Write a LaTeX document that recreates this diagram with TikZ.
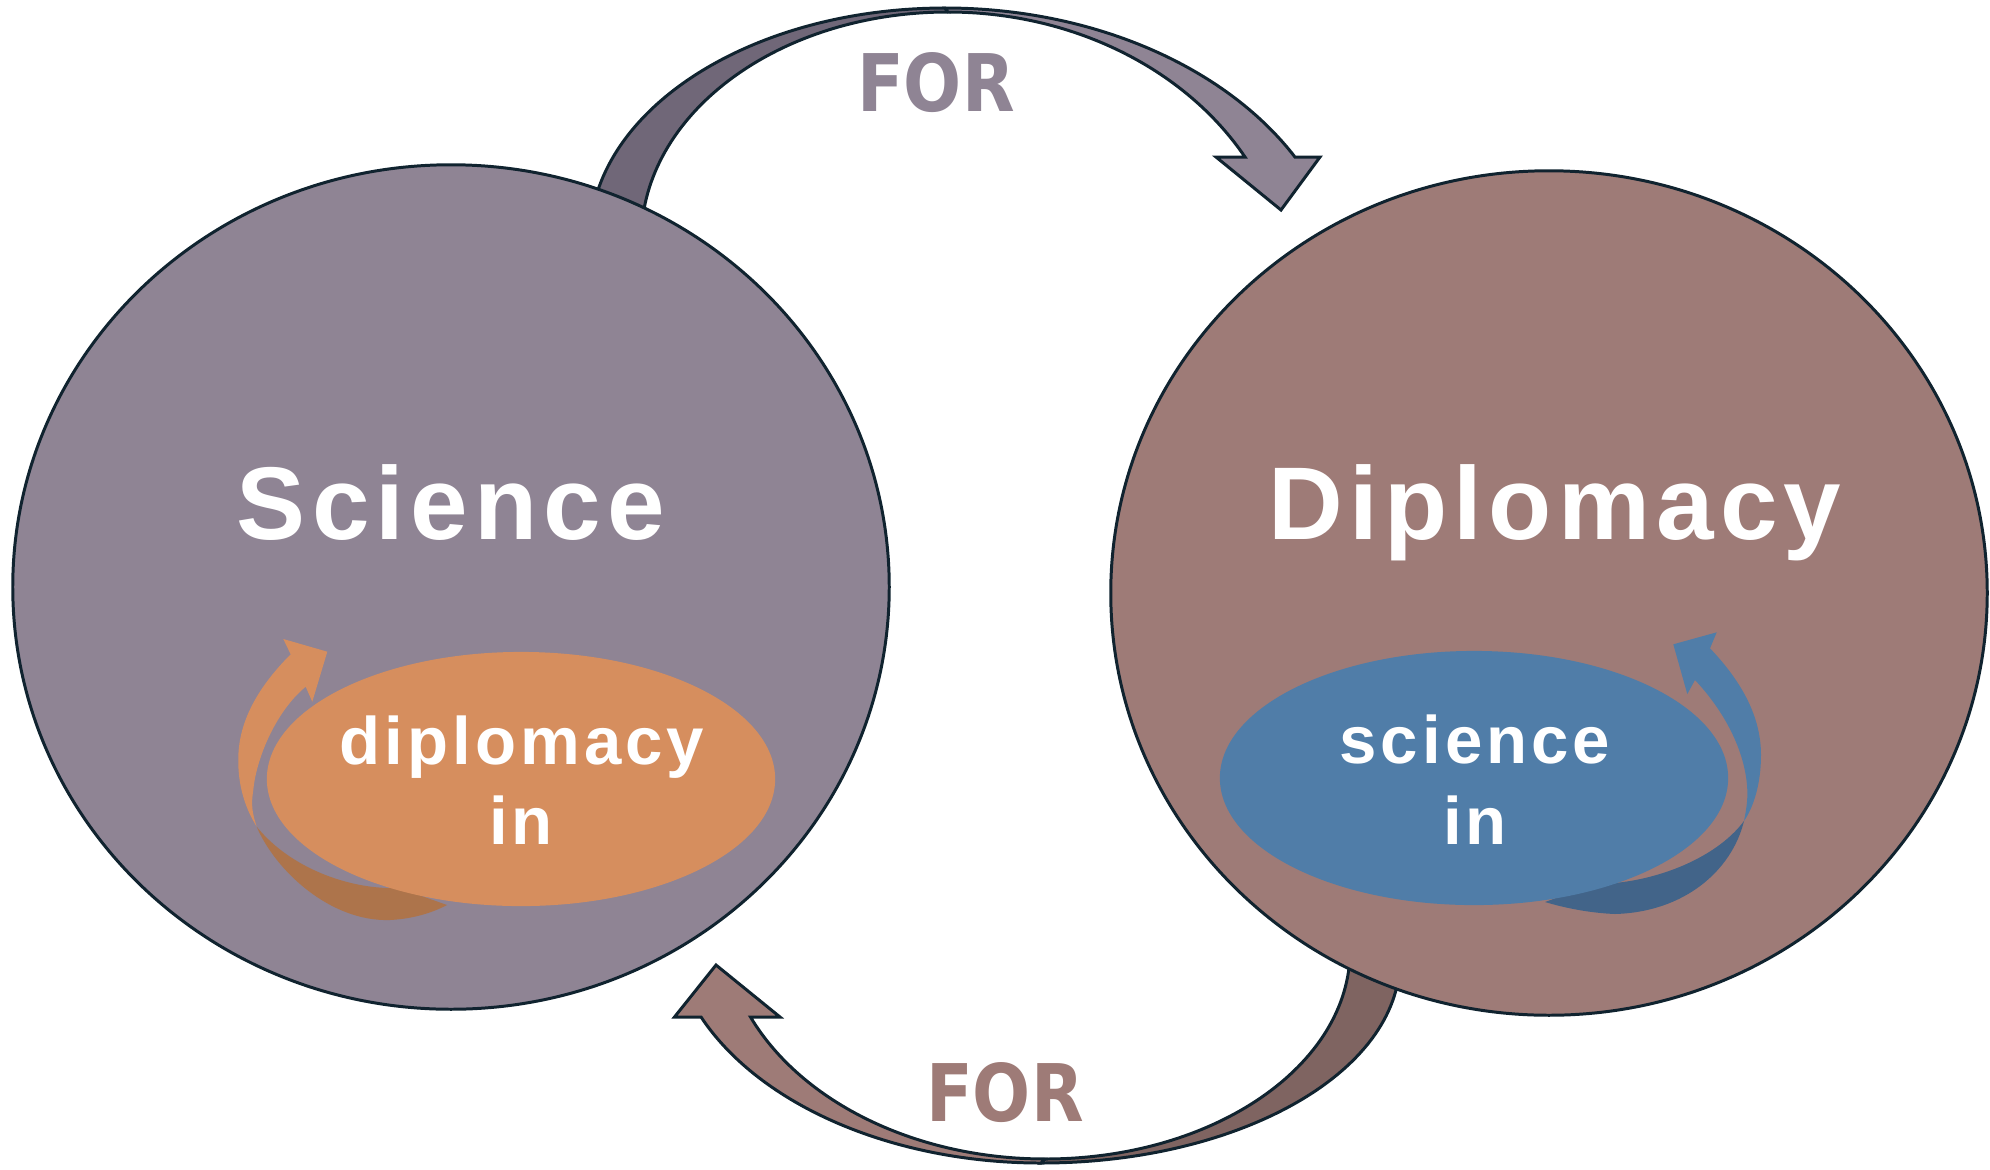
\documentclass[tikz,border=0pt]{standalone}
\usepackage{fontspec}
\usepackage{xcolor}
\usetikzlibrary{shapes.geometric}

\newfontfamily\mainlabelfont{Liberation Sans}[LetterSpace=6]
\newfontfamily\forfont{DejaVu Sans}[FakeStretch=0.86]

\definecolor{sciencefill}{HTML}{8F8494}
\definecolor{sciencedark}{HTML}{706778}
\definecolor{diplofill}{HTML}{9E7B77}
\definecolor{diplodark}{HTML}{7F6461}
\definecolor{orangefill}{HTML}{D68E5E}
\definecolor{orangedark}{HTML}{AD744B}
\definecolor{bluefill}{HTML}{507DA8}
\definecolor{bluedark}{HTML}{426489}
\definecolor{edge}{HTML}{10232F}

\begin{document}
\begin{tikzpicture}[x=0.01cm, y=-0.01cm]
    % Define styles
    \tikzstyle{bigcirc} = [ellipse, draw=edge, line width=0.85pt, minimum width=8.76cm, minimum height=8.44cm, inner sep=0pt]
    \tikzstyle{smallcirc} = [ellipse, minimum width=5.08cm, minimum height=2.54cm, inner sep=0pt]
    \tikzstyle{band} = [draw=edge, line width=0.85pt, line join=miter]
    \tikzstyle{bigword} = [text=white, font=\mainlabelfont\bfseries\fontsize{29.4}{34}\selectfont, anchor=base, inner sep=0pt]
    \tikzstyle{smallword} = [text=white, font=\mainlabelfont\bfseries\fontsize{19.1}{23}\selectfont, anchor=base, inner sep=0pt]
    \tikzstyle{forword} = [font=\forfont\bfseries\fontsize{22.6}{27}\selectfont, anchor=base, inner sep=0pt]

    \useasboundingbox (0,0) rectangle (1990,1169);

    % Top arrow: science for diplomacy
    \filldraw[band, fill=sciencedark] (591,219.8) arc[start angle=-175, end angle=-90, x radius=355.4, y radius=232]
        -- (948,12) arc[start angle=-90, end angle=-178, x radius=306.8, y radius=228] -- cycle;
    \filldraw[band, fill=sciencefill] (945,8) arc[start angle=-90, end angle=-29.32, x radius=401.4, y radius=292]
        -- (1320,157) -- (1281,210) -- (1216,157) -- (1245,157)
        arc[start angle=-29.77, end angle=-90, x radius=342.2, y radius=288] -- cycle;

    % Bottom arrow: diplomacy for science
    \filldraw[band, fill=diplodark] (1041,1163) arc[start angle=90, end angle=0, x radius=358.9, y radius=203]
        -- (1350.1,950) arc[start angle=0, end angle=90, x radius=305.1, y radius=209] -- cycle;
    \filldraw[band, fill=diplofill] (1041,1163) arc[start angle=90, end angle=156.47, x radius=370.8, y radius=243]
        -- (674.5,1017) -- (716,965) -- (780,1017) -- (750.5,1017)
        arc[start angle=156.05, end angle=90, x radius=322.2, y radius=239] -- cycle;

    % Main fields
    \node[bigcirc, fill=sciencefill] (science) at (451,587) {};
    \node[bigcirc, fill=diplofill] (diplomacy) at (1549,593) {};

    % Small turning arrows
    \fill[orangedark] (256.7,826.7) .. controls (275,870) and (330,922) .. (390,920)
        .. controls (410,919) and (430,914) .. (447,905) -- (399,888)
        .. controls (350,890) and (290,868) .. (256.7,826.7) -- cycle;
    \fill[orangefill] (290.7,654.3) .. controls (255,690) and (238,725) .. (238.3,760)
        .. controls (238,785) and (245,808) .. (256.7,826.7)
        .. controls (252,812) and (251,805) .. (253.3,790)
        .. controls (256,760) and (275,712) .. (305.7,686.7)
        -- (312.3,701.7) -- (327.3,651.7) -- (283.3,639) -- cycle;
    \fill[bluedark] (1744,821) .. controls (1732,870) and (1685,912) .. (1615,914)
        .. controls (1590,913) and (1565,908) .. (1545,902) -- (1595,884)
        .. controls (1650,884) and (1715,860) .. (1744,821) -- cycle;
    \fill[bluefill] (1710,648.3) .. controls (1745,685) and (1761,720) .. (1761,755)
        .. controls (1761,785) and (1753,808) .. (1744,821)
        .. controls (1747,806) and (1748,797) .. (1747,785)
        .. controls (1744,750) and (1725,712) .. (1695,680)
        -- (1687.3,694) -- (1673.3,644.3) -- (1716.7,632.3) -- cycle;

    % Inner fields
    \node[smallcirc, fill=orangefill] (dipin) at (521,779) {};
    \node[smallcirc, fill=bluefill] (sciin) at (1474,778) {};

    % Labels
    \node[bigword] (sciencetext) at (451,539) {Science};
    \node[bigword] (diplomacytext) at (1555,539) {Diplomacy};
    \node[smallword] (diptext) at (522,764) {diplomacy};
    \node[smallword] (dipintext) at (521,844) {in};
    \node[smallword] (scitext) at (1475,763) {science};
    \node[smallword] (sciintext) at (1475,844) {in};
    \node[forword, text=sciencefill] (fortop) at (936,111) {FOR};
    \node[forword, text=diplofill] (forbottom) at (1005,1121) {FOR};
\end{tikzpicture}
\end{document}
